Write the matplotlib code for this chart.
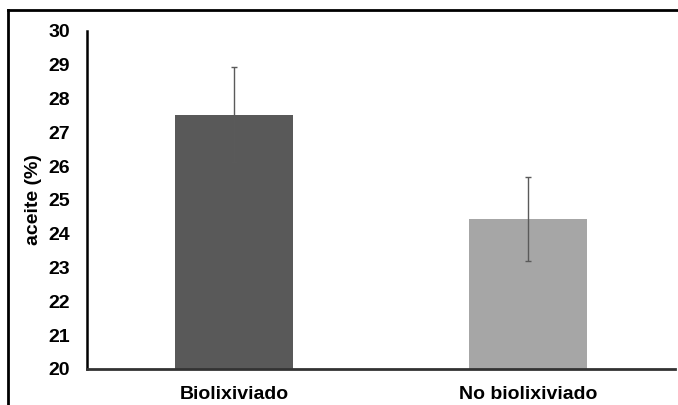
import matplotlib
matplotlib.use("Agg")
import matplotlib.pyplot as plt
from matplotlib.lines import Line2D

categories = ["Biolixiviado", "No biolixiviado"]
values = [27.52, 24.44]
errors = [1.40, 1.25]
bar_colors = ["#595959", "#A6A6A6"]
yticks = [20, 21, 22, 23, 24, 25, 26, 27, 28, 29, 30]

plt.rcParams['font.family'] = ['Liberation Sans', 'DejaVu Sans']

fig = plt.figure(figsize=(6.78, 4.05), dpi=100)
ax = fig.add_axes([0.1283, 0.0889, 0.8673, 0.8346])

x = list(range(len(categories)))
ax.bar(x, [v - 20 for v in values], bottom=20, width=0.4, color=bar_colors, zorder=2)
ax.errorbar(x, values, yerr=errors, fmt='none', ecolor='#5a5a5a', elinewidth=1.0,
            capsize=2.5, capthick=1.0, zorder=3)

ax.set_xlim(-0.5, 1.5)
ax.set_ylim(20, 30)
ax.set_yticks(yticks)
ax.set_yticklabels([str(t) for t in yticks], fontsize=14, fontweight='bold')
ax.set_xticks(x)
ax.set_xticklabels(categories, fontsize=14, fontweight='bold')
ax.tick_params(axis='y', length=0, pad=12)
ax.tick_params(axis='x', length=0, pad=12)
ax.set_ylabel("aceite (%)", fontsize=14, fontweight='bold', labelpad=5)

for s in ['top', 'right']:
    ax.spines[s].set_visible(False)
ax.spines['left'].set_linewidth(1.8)
ax.spines['left'].set_color('black')
ax.spines['bottom'].set_linewidth(2.0)
ax.spines['bottom'].set_color('#333333')

# outer frame (top and left)
fig.add_artist(Line2D([8/678, 1.0], [1 - 10/405, 1 - 10/405], transform=fig.transFigure,
                      color='black', linewidth=2.0))
fig.add_artist(Line2D([8/678, 8/678], [1 - 10/405, 0.0], transform=fig.transFigure,
                      color='black', linewidth=2.0))

fig.savefig("out.png", dpi=100)
